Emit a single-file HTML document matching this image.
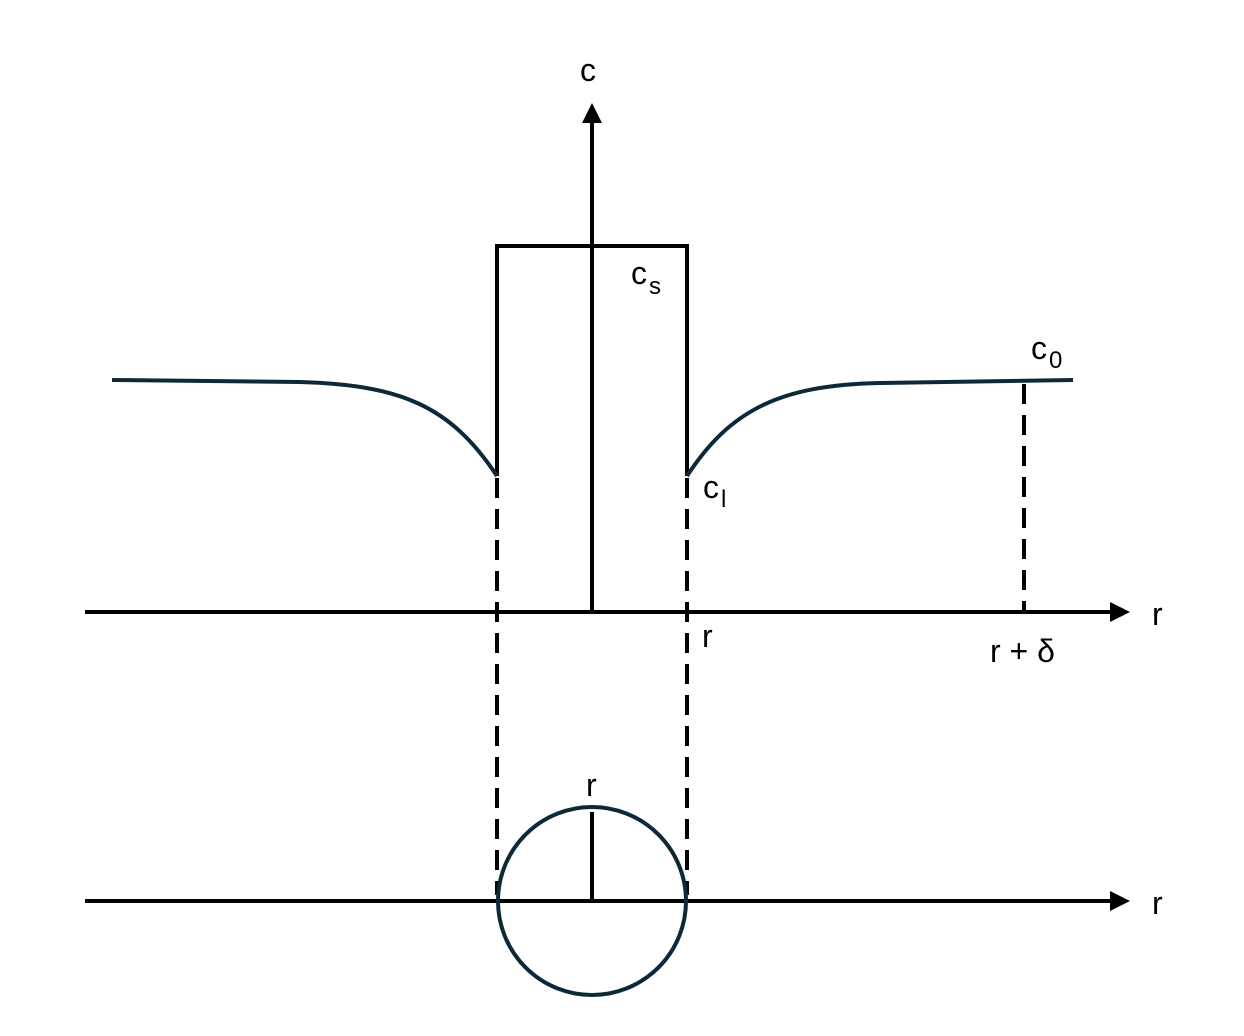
<!DOCTYPE html>
<html><head><style>html,body{margin:0;padding:0;background:#fff}</style></head>
<body>
<svg width="1244" height="1036" viewBox="0 0 1244 1036" xmlns="http://www.w3.org/2000/svg" style="display:block">
<g font-family="Liberation Sans, sans-serif" font-size="32" fill="#000">
<text x="580" y="81">c</text>
<text x="631" y="284">c</text><text x="649" y="294" font-size="24">s</text>
<text x="703" y="498">c</text><text x="721" y="507" font-size="24">l</text>
<text x="1031" y="359">c</text><text x="1049" y="368" font-size="24">0</text>
<text x="1152" y="625">r</text>
<text x="702" y="647">r</text>
<text x="990" y="662">r + δ</text>
<text x="586" y="796">r</text>
<text x="1152" y="914">r</text>
</g>
<g stroke="#000" stroke-width="4" fill="none">
<line x1="592" y1="120" x2="592" y2="612"/>
<polyline points="497,476 497,246 687,246 687,476"/>
<line x1="85" y1="612" x2="1112" y2="612"/>
<line x1="85" y1="901" x2="1112" y2="901"/>
<line x1="592" y1="812" x2="592" y2="901"/>
<g stroke-dasharray="20,11">
<line x1="497" y1="478" x2="497" y2="895"/>
<line x1="687" y1="478" x2="687" y2="895"/>
<line x1="1024" y1="384" x2="1024" y2="612"/>
</g>
</g>
<g fill="#000">
<polygon points="592,103 582,123 602,123"/>
<polygon points="1130,612 1110,602 1110,622"/>
<polygon points="1130,901 1110,891 1110,911"/>
</g>
<g stroke="#0f2838" stroke-width="4" fill="none">
<path d="M112,380 L300,382 C400,385 450,405 497,476"/>
<path d="M687,476 C730,410 780,385 880,383 L1073,380"/>
<circle cx="592" cy="901" r="94"/>
</g>
</svg>
</body></html>
